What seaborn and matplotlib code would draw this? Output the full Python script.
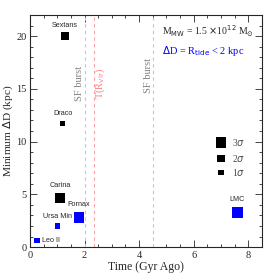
import pandas as pd
import matplotlib.pyplot as plt
import seaborn as sns

# galaxias y valores
names = ['Sextans', 'Draco', 'Carina', 'Fornax', 'Ursa Min', 'Leo II', 'LMC']
time_gyr = [1.28, 1.2, 1.1, 1.8, 1.0, 0.26, 7.6]
min_dd = [20.0, 11.7, 4.65, 2.8, 2.0, 0.66, 3.3]
sigma = [2, 1, 3, 3, 1, 1, 3]
tidal = [False, False, False, True, True, True, True]

sf_bursts = [2.0, 4.52]
t_rvir = 2.36
legend_sigma = [3, 2, 1]
legend_y = [9.9, 8.4, 7.1]

df = pd.DataFrame({'name': names, 'time': time_gyr, 'dd': min_dd,
                   'sigma': sigma, 'tidal': tidal})
df_leg = pd.DataFrame({'time': [7.0] * 3, 'dd': legend_y, 'sigma': legend_sigma})

sns.set_style('ticks')
plt.rcParams['font.family'] = ['Liberation Serif', 'DejaVu Serif']

fig = plt.figure(figsize=(2.77, 2.77), dpi=100)
ax = fig.add_axes([0.108, 0.108, 0.838, 0.838])

sizes = {1: 14, 2: 28, 3: 58}
sns.scatterplot(data=df, x='time', y='dd', hue='tidal', size='sigma',
                sizes=sizes, marker='s', palette={False: 'black', True: 'blue'},
                edgecolor='none', legend=False, ax=ax)
sns.scatterplot(data=df_leg, x='time', y='dd', size='sigma', sizes=sizes,
                marker='s', color='black', edgecolor='none', legend=False, ax=ax)

for s, y in zip(legend_sigma, legend_y):
    ax.text(7.4, y, f'{s}$\\sigma$', fontsize=7, va='center', color='0.3')

# etiquetas de las galaxias
offs = {'Leo II': (0.18, 0.0, 'left', 'center')}
for _, r in df.iterrows():
    dy = {1: 0.6, 2: 0.7, 3: 0.9}[r['sigma']]
    dx, ddy, ha, va = offs.get(r['name'], (0, dy, 'center', 'bottom'))
    ax.text(r['time'] + dx, r['dd'] + ddy, r['name'], fontsize=5.2,
            ha=ha, va=va, family='Liberation Sans')

for x in sf_bursts:
    ax.axvline(x, color='0.78', ls='--', lw=0.8, dashes=(3, 3))
ax.axvline(t_rvir, color='#ffa0a0', ls='--', lw=0.8, dashes=(3, 3))
ax.text(1.83, 15.5, 'SF burst', rotation=90, color='0.5', fontsize=7.5,
        ha='center', va='center')
ax.text(4.35, 16.3, 'SF burst', rotation=90, color='0.5', fontsize=7.5,
        ha='center', va='center')
ax.text(2.58, 15.5, 'T(R$_{\\rm vir}$)', rotation=90, color='#ff8080',
        fontsize=7.5, ha='center', va='center')

ax.text(4.85, 20.5, 'M$_{\\rm MW}$ = 1.5 $\\times$10$^{12}$ M$_{\\odot}$',
        fontsize=7, va='center')
ax.text(4.85, 18.6, '$\\Delta$D = R$_{\\rm tide}$ < 2 kpc', fontsize=7.5,
        color='blue', va='center')

ax.set_xlim(0, 8.5)
ax.set_ylim(0, 22)
ax.set_xticks([0, 2, 4, 6, 8])
ax.set_yticks([0, 5, 10, 15, 20])
ax.minorticks_on()
ax.tick_params(which='both', direction='in', top=True, right=True,
               labelsize=7.5, width=0.6, pad=2.5)
ax.tick_params(which='major', length=5)
ax.tick_params(which='minor', length=2.5)
for sp in ax.spines.values():
    sp.set_linewidth(0.8)
ax.set_xlabel('Time (Gyr Ago)', fontsize=8.5, labelpad=1)
ax.set_ylabel('Minimum $\\Delta$D (kpc)', fontsize=8.2, labelpad=0.5)

fig.savefig('out.png', dpi=100)
